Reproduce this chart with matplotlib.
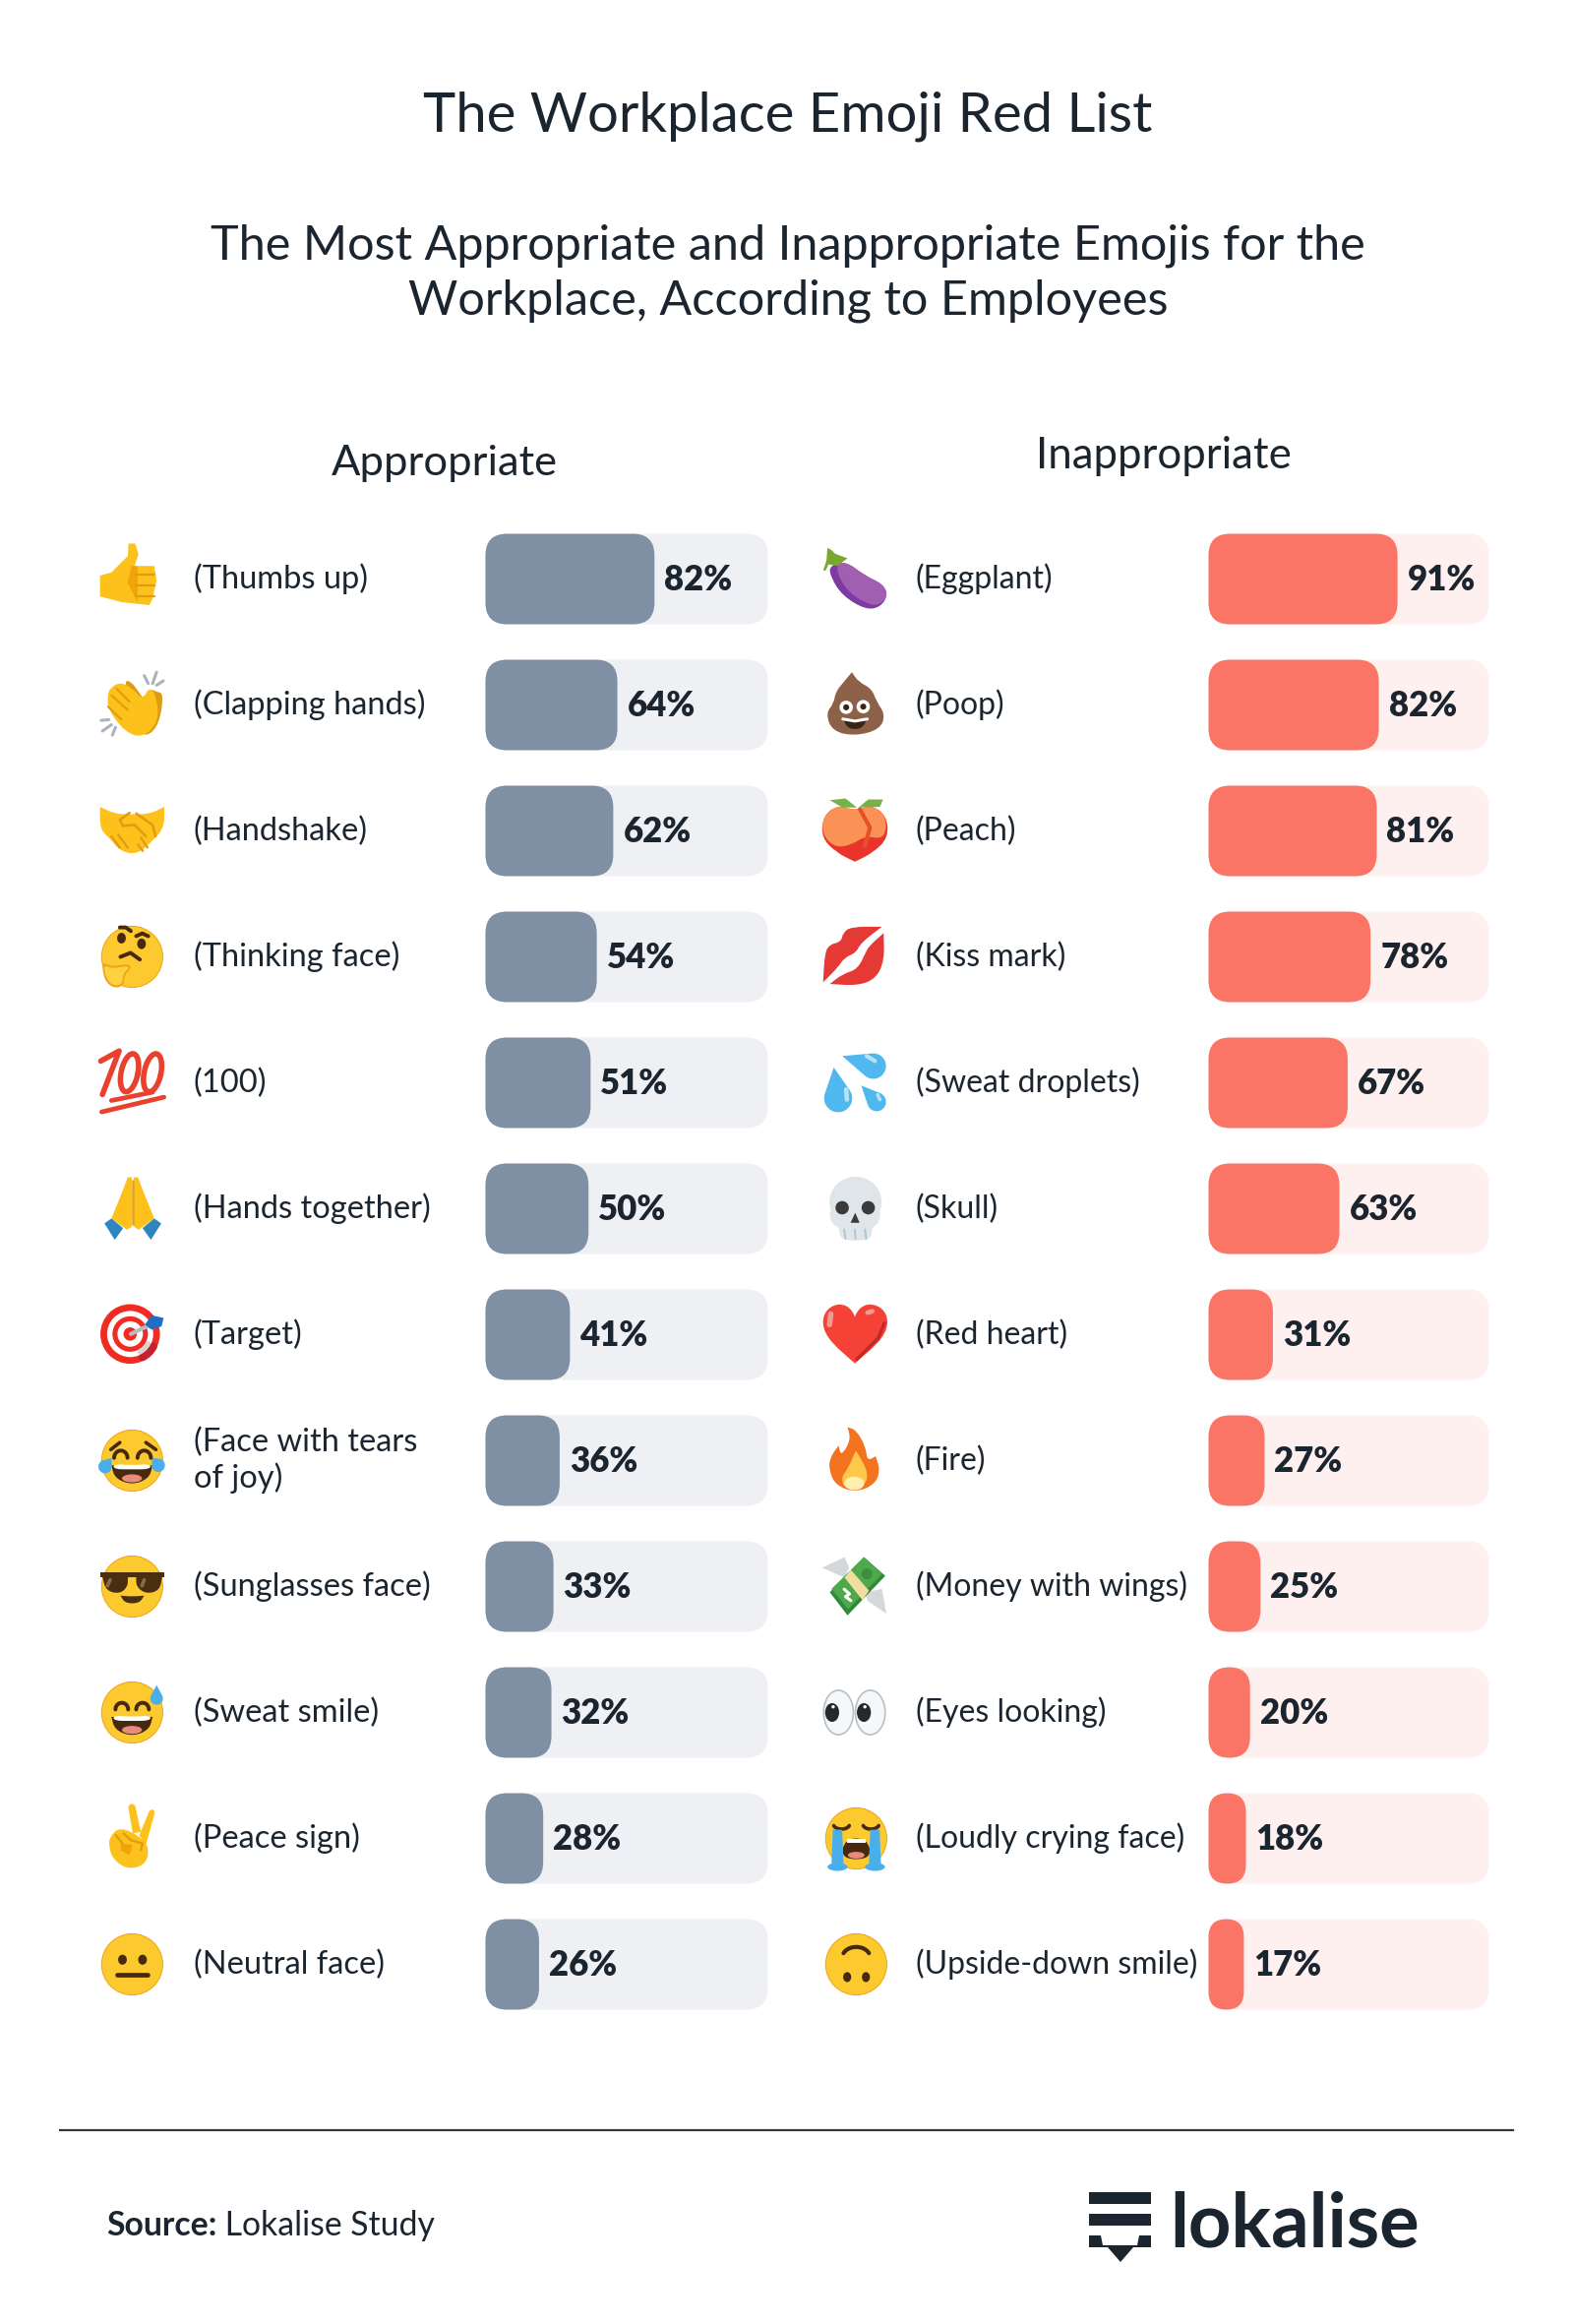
"""
The Workplace Emoji Red List: two rounded bar panels with hand drawn emoji icons.
"""
import matplotlib
matplotlib.use("Agg")
import matplotlib.pyplot as plt
import numpy as np
from matplotlib.lines import Line2D
from matplotlib.patches import Ellipse, FancyBboxPatch, PathPatch, Polygon, Rectangle
from matplotlib.path import Path
from matplotlib.transforms import Affine2D

APPROPRIATE_LABELS = ["(Thumbs up)", "(Clapping hands)", "(Handshake)", "(Thinking face)",
                      "(100)", "(Hands together)", "(Target)", "(Face with tears\nof joy)",
                      "(Sunglasses face)", "(Sweat smile)", "(Peace sign)", "(Neutral face)"]
APPROPRIATE_VALUES = [82, 64, 62, 54, 51, 50, 41, 36, 33, 32, 28, 26]

INAPPROPRIATE_LABELS = ["(Eggplant)", "(Poop)", "(Peach)", "(Kiss mark)",
                        "(Sweat droplets)", "(Skull)", "(Red heart)", "(Fire)",
                        "(Money with wings)", "(Eyes looking)", "(Loudly crying face)",
                        "(Upside-down smile)"]
INAPPROPRIATE_VALUES = [91, 82, 81, 78, 67, 63, 31, 27, 25, 20, 18, 17]

W, H = 1600, 2362
INK = "#1b2530"
SKIN = "#fcc21b"
SKIN_DARK = "#e29a10"
BROWN = "#46290f"
TEAR = "#4aaeea"
RED_100 = "#e8412f"
FONT = "Lato"
R = 34
ROW_TOP = 588.5
ROW_STEP = 128.0

plt.rcParams["font.family"] = [FONT, "DejaVu Sans"]

fig = plt.figure(figsize=(W / 100, H / 100), dpi=100, facecolor="white")
bg = fig.add_axes([0, 0, 1, 1])
bg.set_xlim(0, W)
bg.set_ylim(H, 0)
bg.axis("off")


def tr(cx, cy):
    return Affine2D().scale(R, -R).translate(cx, cy) + bg.transData


def dot(t, x, y, rx, c, ry=None, z=3, ang=0):
    bg.add_patch(Ellipse((x, y), 2 * rx, 2 * (ry or rx), angle=ang, fc=c, ec="none",
                         transform=t, zorder=z))


def poly(t, pts, c, z=3):
    bg.add_patch(Polygon(pts, closed=True, fc=c, ec="none", transform=t, zorder=z))


def blob(t, pts, c, z=3):
    # closed quadratic spline through the midpoints of pts
    pts = np.array(pts, float)
    mids = (pts + np.roll(pts, -1, axis=0)) / 2
    verts = [mids[-1]]
    codes = [Path.MOVETO]
    for p, m in zip(pts, mids):
        verts += [p, m]
        codes += [Path.CURVE3, Path.CURVE3]
    bg.add_patch(PathPatch(Path(verts, codes), fc=c, ec="none", transform=t, zorder=z))


def stroke(t, pts, c, lw=3, z=4):
    pts = np.array(pts, float)
    bg.add_line(Line2D(pts[:, 0], pts[:, 1], color=c, lw=lw, transform=t, zorder=z,
                       solid_capstyle="round", solid_joinstyle="round"))


def arc(t, x, y, rx, ry, a0, a1, c, lw=3, z=4):
    a = np.radians(np.linspace(a0, a1, 24))
    stroke(t, np.c_[x + rx * np.cos(a), y + ry * np.sin(a)], c, lw, z)


def drop(t, tip, centre, r, c, z=5):
    # teardrop: tip point plus the far side of a circle
    tip = np.array(tip, float)
    centre = np.array(centre, float)
    d = tip - centre
    th = np.arctan2(d[1], d[0])
    half = np.arccos(min(r / np.hypot(*d), 1.0))
    a = np.linspace(th + half, th + 2 * np.pi - half, 30)
    poly(t, np.vstack([tip, centre + r * np.c_[np.cos(a), np.sin(a)]]), c, z)


def face(t):
    dot(t, 0.04, 0, 0.93, "#efa51e")
    dot(t, 0.04, 0, 0.90, "#fcc92f")


def open_mouth(t, x0, x1, y0, y1):
    xc = (x0 + x1) / 2
    blob(t, [(x0, y0), (x0, y0), (xc, y0 - 0.04), (x1, y0), (x1, y0), (x1 - 0.1, y1 + 0.1),
             (xc, y1 - 0.1), (x0 + 0.1, y1 + 0.1)], BROWN, 4)
    blob(t, [(x0 + 0.05, y0 + 0.04), (xc, y0 + 0.0), (x1 - 0.05, y0 + 0.04),
             (x1 - 0.08, y0 - 0.12), (xc, y0 - 0.12), (x0 + 0.08, y0 - 0.12)], "white", 5)
    dot(t, xc, y1 + 0.1, 0.3, "#e98a7d", 0.12, 5)


def thumbs(t):
    poly(t, [(-0.92, 0.10), (-0.58, 0.2), (-0.09, 0.69), (-0.07, 1.06), (0.13, 1.06), (0.23, 0.74),
             (0.11, 0.39), (0.7, 0.39), (0.77, -0.05), (0.65, -0.59), (0.55, -0.78), (-0.28, -0.69),
             (-0.92, -0.52)], SKIN)
    poly(t, [(0.02, 0.39), (0.2, 0.39), (0.2, -0.7), (0.05, -0.4), (-0.1, -0.1)], "#f0a30a", 4)
    for y in [0.12, -0.2, -0.5]:
        stroke(t, [(0.14, y), (0.72, y)], SKIN_DARK, 1.5, 5)


def clapping(t):
    blob(t, [(-0.24, 0.69), (0.01, 0.74), (0.45, 0.05), (0.55, 0.49), (0.79, 0.39), (0.97, 0.34),
             (0.89, -0.39), (0.65, -0.84), (0.3, -0.93)], "#dc9c14")
    blob(t, [(-0.63, 0.49), (-0.33, 0.69), (0.06, 0.49), (0.35, 0.15), (0.55, 0.54), (0.75, 0.29),
             (0.84, -0.39), (0.55, -0.84), (0.16, -0.96), (-0.28, -0.69), (-0.69, -0.1), (-0.69, 0.29)],
         SKIN, 4)
    for a, b in [((-0.58, 0.29), (-0.09, -0.15)), ((-0.43, 0.49), (-0.04, 0.1)), ((-0.68, -0.05), (-0.28, -0.44))]:
        stroke(t, [a, b], SKIN_DARK, 1.5, 5)
    for a, b in [((0.4, 0.88), (0.52, 0.64)), ((0.77, 0.98), (0.65, 0.64)), ((0.97, 0.72), (0.77, 0.59)),
                 ((-0.89, -0.46), (-0.66, -0.44)), ((-0.85, -0.78), (-0.58, -0.59)), ((-0.55, -0.9), (-0.46, -0.67))]:
        stroke(t, [a, b], "#aab4c0", 2.2)


def handshake(t):
    blob(t, [(-0.92, 0.72), (-0.92, 0.72), (-0.45, 0.5), (0.0, 0.5), (0.55, 0.5), (1.0, 0.72), (1.0, 0.72),
             (1.0, 0.1), (0.65, -0.3), (0.2, -0.7), (-0.3, -0.62), (-0.65, -0.2), (-0.92, 0.05)], SKIN)
    stroke(t, [(-0.04, 0.54), (-0.33, 0.33), (-0.24, 0.15), (0.11, 0.18), (0.45, -0.16)], SKIN_DARK, 1.8)
    stroke(t, [(0.16, 0.52), (0.65, 0.18), (0.74, -0.16)], SKIN_DARK, 1.8)
    for a, b in [((-0.58, -0.16), (-0.33, -0.5)), ((-0.38, -0.11), (-0.09, -0.5)), ((0.21, -0.4), (0.36, -0.6)),
                 ((0.3, -0.2), (0.5, -0.5))]:
        stroke(t, [a, b], SKIN_DARK, 1.6)


def thinking(t):
    face(t)
    dot(t, -0.28, 0.56, 0.13, BROWN, 0.16, 4)
    dot(t, 0.32, 0.39, 0.13, BROWN, 0.16, 4)
    stroke(t, [(-0.33, 0.88), (-0.15, 0.88), (0.0, 0.77)], BROWN, 2.8)
    stroke(t, [(0.16, 0.62), (0.34, 0.7), (0.52, 0.62)], BROWN, 2.8)
    stroke(t, [(-0.31, 0.0), (-0.01, 0.12), (0.27, -0.08)], BROWN, 2.8)
    blob(t, [(-0.87, -0.13), (-0.6, -0.3), (-0.1, -0.2), (0.03, -0.32), (-0.2, -0.55), (-0.2, -0.85),
             (-0.5, -0.95), (-0.8, -0.7)], "#f2a51a", 5)
    blob(t, [(-0.82, -0.22), (-0.58, -0.36), (-0.12, -0.27), (-0.05, -0.32), (-0.26, -0.55), (-0.24, -0.8),
             (-0.5, -0.88), (-0.74, -0.66)], "#fdd23f", 6)


def hundred(t):
    stroke(t, [(-0.9, 0.65), (-0.35, 0.95), (-0.85, -0.35)], RED_100, 4)
    for xc, yc in [(-0.04, 0.3), (0.65, 0.3)]:
        a = np.radians(np.linspace(0, 360, 40))
        ex, ey = 0.25 * np.cos(a), 0.58 * np.sin(a)
        tilt = np.radians(-12)
        stroke(t, np.c_[xc + ex * np.cos(tilt) - ey * np.sin(tilt),
                        yc + ex * np.sin(tilt) + ey * np.cos(tilt)], RED_100, 4)
    stroke(t, [(-0.58, -0.53), (0.65, -0.28)], RED_100, 3.4)
    stroke(t, [(-0.87, -0.87), (0.99, -0.43)], RED_100, 3.4)


def hands_together(t):
    left = [(-0.09, 0.94), (0.03, 0.94), (0.03, -0.53), (-0.11, -0.63), (-0.58, -0.29), (-0.28, 0.45)]
    sleeve = [(-0.58, -0.29), (-0.23, -0.58), (-0.48, -0.93), (-0.79, -0.44)]
    mirror = lambda pts: [(0.12 - x, y) for x, y in pts]
    poly(t, left, SKIN)
    poly(t, mirror(left), SKIN)
    poly(t, sleeve, "#2e86c1", 4)
    poly(t, mirror(sleeve), "#2e86c1", 4)
    stroke(t, [(0.06, 0.85), (0.06, -0.45)], "#e8a30c", 1.8)


def target(t):
    for r, c in [(0.89, "#f02b22"), (0.69, "#ffffff"), (0.53, "#f02b22"), (0.38, "#ffffff"), (0.2, "#f02b22")]:
        dot(t, -0.02, 0.02, r, c)
    arc(t, -0.02, 0.02, 0.79, 0.79, -62, -28, "#c4202e", 5.5, 4)
    arc(t, -0.02, 0.02, 0.61, 0.61, -62, -28, "#d5d5d8", 3.5, 4)
    stroke(t, [(0.0, 0.02), (0.55, 0.28)], "#b7bcc2", 3, 5)
    poly(t, [(0.42, 0.3), (0.62, 0.58), (0.98, 0.5), (0.92, 0.25), (0.62, 0.15)], "#1e6fc1", 6)


def joy(t):
    face(t)
    arc(t, -0.3, 0.08, 0.2, 0.22, 0, 180, BROWN, 2.8)
    arc(t, 0.4, 0.08, 0.2, 0.22, 0, 180, BROWN, 2.8)
    stroke(t, [(-0.6, 0.33), (-0.33, 0.54)], BROWN, 2.6)
    stroke(t, [(0.45, 0.54), (0.75, 0.33)], BROWN, 2.6)
    open_mouth(t, -0.58, 0.65, -0.14, -0.63)
    drop(t, (-0.58, 0.08), (-0.77, -0.18), 0.2, TEAR, 6)
    drop(t, (0.65, 0.08), (0.82, -0.14), 0.2, TEAR, 6)


def sunglasses(t):
    face(t)
    glass = "#4a2e10"
    poly(t, [(-0.91, 0.42), (1.0, 0.42), (1.0, 0.27), (-0.91, 0.27)], glass, 4)
    blob(t, [(-0.85, 0.3), (-0.85, 0.3), (-0.09, 0.3), (-0.09, 0.3), (-0.09, 0.0), (-0.33, -0.22), (-0.75, -0.12)], glass, 4)
    blob(t, [(0.16, 0.3), (0.16, 0.3), (0.94, 0.3), (0.94, 0.3), (0.86, -0.12), (0.45, -0.22), (0.16, 0.0)], glass, 4)
    stroke(t, [(-0.62, 0.2), (-0.7, 0.02)], "#8a6a4a", 2.6, 5)
    stroke(t, [(0.4, 0.2), (0.33, 0.02)], "#8a6a4a", 2.6, 5)
    blob(t, [(-0.31, -0.27), (-0.31, -0.27), (0.04, -0.3), (0.4, -0.27), (0.4, -0.27), (0.25, -0.5), (-0.17, -0.5)], glass, 4)


def sweat_smile(t):
    face(t)
    arc(t, -0.27, 0.09, 0.19, 0.2, 0, 180, BROWN, 2.8)
    arc(t, 0.35, 0.09, 0.19, 0.2, 0, 180, BROWN, 2.8)
    open_mouth(t, -0.58, 0.65, -0.13, -0.62)
    drop(t, (0.77, 0.82), (0.77, 0.42), 0.19, TEAR, 6)


def peace(t):
    poly(t, [(-0.07, 0.89), (0.13, 0.97), (0.3, 0.2), (0.06, 0.15)], SKIN)
    poly(t, [(0.55, 0.81), (0.71, 0.74), (0.45, -0.19), (0.25, 0.1)], SKIN)
    dot(t, 0.03, 0.93, 0.1, SKIN)
    dot(t, 0.63, 0.78, 0.08, SKIN)
    blob(t, [(-0.63, 0.05), (-0.33, 0.35), (0.3, 0.05), (0.55, -0.29), (0.45, -0.78), (-0.09, -0.93),
             (-0.53, -0.63), (-0.66, -0.24)], SKIN)
    poly(t, [(-0.3, -0.15), (0.05, -0.2), (-0.05, -0.5), (-0.3, -0.35)], "#f0a30a", 4)
    stroke(t, [(-0.45, 0.1), (-0.25, -0.15)], SKIN_DARK, 1.6)
    stroke(t, [(-0.22, 0.15), (0.0, -0.05)], SKIN_DARK, 1.6)
    stroke(t, [(0.0, -0.05), (0.35, -0.15), (0.3, -0.35)], SKIN_DARK, 1.6)


def neutral(t):
    face(t)
    dot(t, -0.25, 0.14, 0.13, BROWN, 0.15, 4)
    dot(t, 0.35, 0.14, 0.13, BROWN, 0.15, 4)
    stroke(t, [(-0.4, -0.32), (0.5, -0.32)], BROWN, 3.4)


def eggplant(t):
    blob(t, [(-0.77, 0.39), (-0.28, 0.54), (0.3, 0.1), (0.84, -0.15), (0.99, -0.49), (0.75, -0.85),
             (0.3, -0.91), (-0.38, -0.49), (-0.72, 0.05)], "#7e3aa0")
    blob(t, [(-0.6, 0.39), (-0.28, 0.54), (0.3, 0.1), (0.84, -0.15), (0.99, -0.49), (0.72, -0.8),
             (0.3, -0.72), (-0.3, -0.3)], "#a05fb0", 4)
    poly(t, [(-0.95, 0.25), (-0.85, 0.55), (-0.82, 0.93), (-0.72, 0.88), (-0.58, 0.75), (-0.22, 0.62),
             (-0.53, 0.39), (-0.79, 0.44), (-0.87, 0.26)], "#7aa82a", 5)


def poop(t):
    blob(t, [(-0.09, 0.98), (-0.09, 0.98), (-0.33, 0.69), (-0.58, 0.39), (-0.63, 0.05), (-0.87, -0.25), (-0.68, -0.78),
             (0, -0.93), (0.75, -0.73), (0.91, -0.29), (0.65, 0.1), (0.5, 0.49), (0.11, 0.69)], "#8d6148")
    dot(t, -0.26, -0.07, 0.2, "white", None, 5)
    dot(t, 0.25, -0.05, 0.2, "white", None, 5)
    dot(t, -0.26, -0.07, 0.09, "#3a2415", None, 6)
    dot(t, 0.25, -0.05, 0.09, "#3a2415", None, 6)
    blob(t, [(-0.36, -0.42), (-0.36, -0.42), (0.37, -0.42), (0.37, -0.42), (0.2, -0.72), (-0.2, -0.72)], "#3a2415", 5)
    stroke(t, [(-0.36, -0.42), (0, -0.48), (0.37, -0.42)], "white", 2.2, 6)


def peach(t):
    lobes = [(0, 0.6), (-0.5, 0.78), (-0.95, 0.45), (-1.0, -0.2), (-0.55, -0.65), (0, -0.92), (0, -0.92),
             (0.55, -0.65), (1.0, -0.2), (0.95, 0.45), (0.5, 0.78)]
    blob(t, lobes, "#e8342a")
    blob(t, [(0, 0.6), (-0.5, 0.78), (-0.95, 0.45), (-0.98, -0.1), (-0.6, -0.5), (-0.1, -0.42), (0.3, -0.15),
             (0.9, -0.25), (0.95, 0.45), (0.5, 0.78)], "#fb9255", 4)
    stroke(t, [(0.15, 0.65), (0.45, 0.1), (0.3, -0.45)], "#e8502a", 3, 5)
    poly(t, [(-0.75, 0.92), (-0.28, 0.97), (0.06, 0.7), (-0.38, 0.7)], "#78b04a", 5)
    poly(t, [(0.11, 0.7), (0.4, 0.94), (0.84, 0.94), (0.75, 0.72)], "#78b04a", 5)


def kiss(t):
    red = "#e53935"
    blob(t, [(0.81, 0.9), (0.81, 0.9), (-0.12, 0.9), (-0.36, 0.71), (-0.41, 0.45), (-0.75, 0.37), (-0.90, 0.12),
             (-0.95, -0.76), (-0.95, -0.76), (-0.51, -0.32), (-0.31, -0.02), (0.03, 0.12), (0.18, 0.42)], red)
    blob(t, [(0.86, 0.71), (0.86, 0.71), (0.88, -0.12), (0.62, -0.66), (0.08, -0.86), (-0.75, -0.81), (-0.75, -0.81),
             (-0.36, -0.51), (0.08, -0.37), (0.32, 0.12), (0.42, 0.32)], red)


def sweat_drops(t):
    drop(t, (-0.38, 0.8), (0.55, 0.5), 0.38, "#4fb8ef")
    drop(t, (-0.63, 0.46), (-0.5, -0.46), 0.42, "#4fb8ef")
    drop(t, (0.19, -0.08), (0.65, -0.57), 0.28, "#4fb8ef")
    stroke(t, [(0.35, 0.8), (0.6, 0.65)], "#b5e2f8", 3, 6)
    stroke(t, [(-0.26, -0.2), (-0.24, -0.5)], "#b5e2f8", 3.4, 6)
    stroke(t, [(0.68, -0.36), (0.75, -0.5)], "#b5e2f8", 2.6, 6)


def skull(t):
    dot(t, 0.02, 0.2, 0.78, "#dfe5e8", 0.76)
    blob(t, [(-0.78, 0.1), (0.8, 0.1), (0.72, -0.45), (0.5, -0.55), (0.5, -0.95), (-0.45, -0.95),
             (-0.45, -0.55), (-0.72, -0.45)], "#dfe5e8")
    dot(t, -0.38, 0.03, 0.2, "#3a3a3a", None, 5)
    dot(t, 0.4, 0.03, 0.2, "#3a3a3a", None, 5)
    poly(t, [(0.01, -0.12), (-0.13, -0.42), (0.14, -0.42)], "#3a3a3a", 5)
    for x0, x1 in [(-0.32, -0.28), (0.0, 0.02), (0.3, 0.34)]:
        stroke(t, [(x0, -0.62), (x1, -0.9)], "#a8c8d4", 1.4, 5)


def heart(t):
    verts = [(0, -0.86), (-0.45, -0.45), (-0.95, -0.1), (-0.95, 0.38), (-0.95, 0.72), (-0.68, 0.9),
             (-0.46, 0.9), (-0.24, 0.9), (-0.08, 0.76), (0, 0.53), (0.08, 0.76), (0.24, 0.9),
             (0.46, 0.9), (0.7, 0.9), (0.97, 0.72), (0.97, 0.38), (0.97, -0.1), (0.45, -0.45), (0, -0.86)]
    codes = [Path.MOVETO] + [Path.CURVE4] * 18
    bg.add_patch(PathPatch(Path(verts, codes), fc="#f44336", ec="none", transform=t, zorder=3))
    stroke(t, [(0.88, 0.35), (0.7, -0.1), (0.05, -0.74)], "#c62828", 2.4, 4)
    stroke(t, [(-0.72, 0.62), (-0.76, 0.3)], "#f59a90", 4, 5)
    stroke(t, [(0.38, 0.66), (0.52, 0.7)], "#f59a90", 3.4, 5)


def fire(t):
    blob(t, [(-0.22, 1.0), (-0.22, 1.0), (0.03, 0.92), (0.32, 0.43), (0.37, -0.01), (0.62, 0.13), (0.62, 0.13), (0.75, -0.26),
             (0.62, -0.70), (0.03, -0.95), (-0.56, -0.75), (-0.77, -0.31), (-0.75, 0.08), (-0.49, 0.45), (-0.49, 0.45),
             (-0.41, 0.13), (-0.12, 0.62)], "#f4731f")
    blob(t, [(0.03, 0.3), (0.03, 0.3), (0.42, -0.36), (0.27, -0.8), (-0.31, -0.85), (-0.41, -0.5), (-0.22, -0.26)], "#fdc94a", 4)
    dot(t, -0.02, -0.68, 0.3, "#fff0b0", 0.2, 5)


def money(t):
    poly(t, [(-0.98, 0.56), (-0.31, 0.88), (-0.17, 0.56), (-0.31, 0.27)], "#d5d8da", 2)
    poly(t, [(0.32, -0.17), (0.81, -0.07), (0.94, -0.81), (0.37, -0.42)], "#d5d8da", 2)
    poly(t, [(-0.75, -0.17), (0.27, 0.88), (0.91, 0.32), (-0.22, -0.86)], "#2f8a36")
    poly(t, [(-0.7, -0.07), (0.27, 0.88), (0.82, 0.38), (-0.2, -0.68)], "#4fa84c", 4)
    poly(t, [(-0.31, 0.27), (-0.12, 0.5), (0.42, -0.12), (0.23, -0.41)], "#f3dc9f", 5)
    dot(t, 0.36, 0.38, 0.16, "#3a8e3e", None, 6)
    stroke(t, [(-0.32, -0.08), (-0.16, -0.22), (-0.28, -0.3), (-0.12, -0.42)], "white", 2.2, 6)


def eyes(t):
    for x, p in [(-0.49, -0.68), (0.46, 0.27)]:
        dot(t, x, 0, 0.47, "#b9c0c7", 0.69, 3)
        dot(t, x, 0, 0.42, "#f6f7f9", 0.64, 4)
        dot(t, p, 0, 0.21, "#26282b", 0.28, 5)
        dot(t, p + 0.03, 0.17, 0.05, "white", None, 6)


def crying(t):
    face(t)
    arc(t, -0.4, 0.42, 0.24, 0.14, 195, 345, BROWN, 2.6)
    arc(t, 0.48, 0.42, 0.24, 0.14, 195, 345, BROWN, 2.6)
    blob(t, [(-0.3, 0.0), (0.38, 0.0), (0.5, -0.62), (-0.42, -0.62)], BROWN, 4)
    poly(t, [(-0.25, -0.02), (0.33, -0.02), (0.33, -0.12), (-0.25, -0.12)], "white", 5)
    dot(t, 0.04, -0.5, 0.25, "#e98a7d", 0.1, 5)
    for x in [-0.52, 0.6]:
        poly(t, [(x - 0.14, 0.26), (x + 0.14, 0.26), (x + 0.18, -0.78), (x - 0.18, -0.78)], TEAR, 6)
        dot(t, x, -0.85, 0.3, TEAR, 0.12, 6)


def upside_down(t):
    face(t)
    dot(t, -0.23, -0.38, 0.12, BROWN, 0.15, 4)
    dot(t, 0.33, -0.38, 0.12, BROWN, 0.15, 4)
    arc(t, 0.04, 0.2, 0.42, 0.32, 25, 155, BROWN, 3)


LEFT_ICONS = [thumbs, clapping, handshake, thinking, hundred, hands_together, target, joy,
              sunglasses, sweat_smile, peace, neutral]
RIGHT_ICONS = [eggplant, poop, peach, kiss, sweat_drops, skull, heart, fire, money, eyes,
               crying, upside_down]


def bar_panel(x0, x1, labels, values, xmax, fill, track, icons, icon_x, label_x, label_size):
    top = ROW_TOP - ROW_STEP / 2
    height = ROW_STEP * 12
    ax = fig.add_axes([x0 / W, 1 - (top + height) / H, (x1 - x0) / W, height / H])
    ax.set_xlim(0, xmax)
    ax.set_ylim(11.5, -0.5)
    ax.axis("off")
    ax.patch.set_alpha(0)

    px = (x1 - x0) / xmax
    aspect = (1 / ROW_STEP) / (1 / px)
    bar_h = 92 / ROW_STEP
    for i, (lab, v) in enumerate(zip(labels, values)):
        r = min(22 / px, v / 2)
        ax.add_patch(FancyBboxPatch((0, i - bar_h / 2), xmax, bar_h, mutation_aspect=aspect,
                                    boxstyle=f"round,pad=0,rounding_size={22 / px}",
                                    fc=track, ec="none", clip_on=False, zorder=1))
        ax.add_patch(FancyBboxPatch((0, i - bar_h / 2), v, bar_h, mutation_aspect=aspect,
                                    boxstyle=f"round,pad=0,rounding_size={r}",
                                    fc=fill, ec="none", clip_on=False, zorder=2))
        ax.annotate(f"{v}%", (v, i), xytext=(7.2, -1), textcoords="offset points",
                    ha="left", va="center", fontsize=25, fontweight="heavy", color=INK, zorder=3)

        y = ROW_TOP + i * ROW_STEP
        bg.text(label_x, y, lab, ha="left", va="center", fontsize=label_size, color=INK,
                linespacing=1.22)
        icons[i](tr(icon_x, y))
    return ax


bar_panel(493.5, 780.5, APPROPRIATE_LABELS, APPROPRIATE_VALUES, 137, "#7f90a5", "#eef0f3",
          LEFT_ICONS, 133, 197, 23.5)
bar_panel(1228.5, 1513.5, INAPPROPRIATE_LABELS, INAPPROPRIATE_VALUES, 135, "#fb7566", "#fef0ee",
          RIGHT_ICONS, 869, 931, 23)

bg.text(801, 118, "The Workplace Emoji Red List", ha="center", va="center", fontsize=40.5, color=INK)
bg.text(801, 250, "The Most Appropriate and Inappropriate Emojis for the", ha="center", va="center",
        fontsize=35, color=INK)
bg.text(801, 306, "Workplace, According to Employees", ha="center", va="center", fontsize=35, color=INK)
bg.text(451.5, 471, "Appropriate", ha="center", va="center", fontsize=31.3, color=INK)
bg.text(1183, 463, "Inappropriate", ha="center", va="center", fontsize=31.5, color=INK)

bg.add_line(Line2D([61, 1538], [2165, 2165], color="#33373c", lw=1.6))

source = bg.text(108, 2262, "Source:", ha="left", va="center", fontsize=24.3, fontweight="bold", color=INK)
bg.annotate(" Lokalise Study", xy=(1, 0.5), xycoords=source, ha="left", va="center", fontsize=24.3,
            color=INK)

# logo: three stacked bars, the last one with a tail, and the word mark
for y0 in [2228, 2250]:
    bg.add_patch(Rectangle((1107, y0), 63, 12, fc=INK, ec="none"))
bg.add_patch(Polygon([(1107, 2272), (1119, 2272), (1121, 2282), (1156, 2282), (1158, 2272), (1170, 2272),
                      (1170, 2284), (1152, 2284), (1139, 2299), (1126, 2284), (1107, 2284)],
                     closed=True, fc=INK, ec="none"))
bg.text(1189, 2283, "lokalise", ha="left", va="baseline", fontsize=54.7, fontweight="bold", color=INK)

fig.savefig("out.png", dpi=100)
